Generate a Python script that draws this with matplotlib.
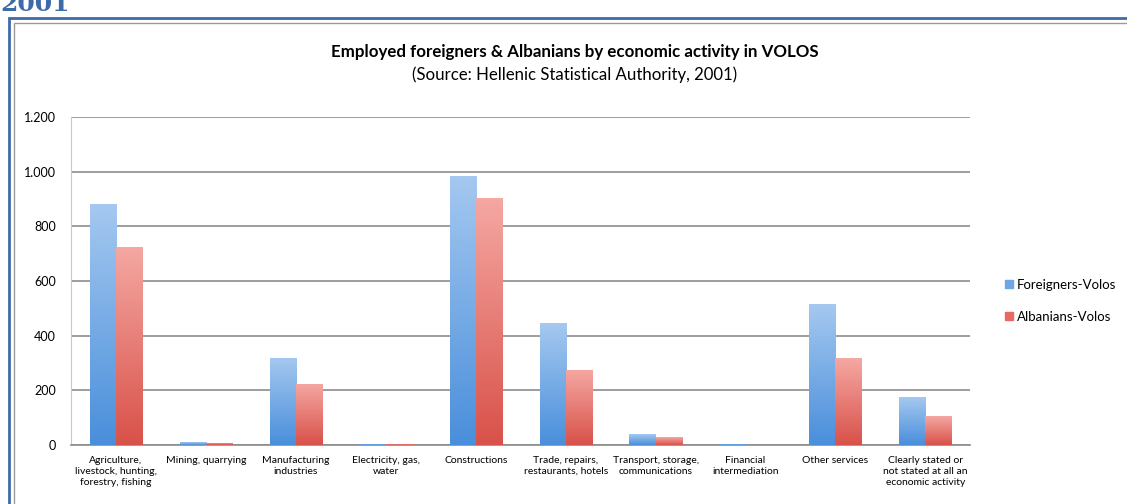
import matplotlib
matplotlib.use("Agg")
import matplotlib.pyplot as plt
import numpy as np
from matplotlib.colors import LinearSegmentedColormap
from matplotlib.patches import Rectangle

categories = [
    "Agriculture,\nlivestock, hunting,\nforestry, fishing",
    "Mining, quarrying",
    "Manufacturing\nindustries",
    "Electricity, gas,\nwater",
    "Constructions",
    "Trade, repairs,\nrestaurants, hotels",
    "Transport, storage,\ncommunications",
    "Financial\nintermediation",
    "Other services",
    "Clearly stated or\nnot stated at all an\neconomic activity",
]
foreigners = [880, 10, 320, 5, 985, 445, 40, 5, 515, 175]
albanians = [725, 8, 225, 5, 905, 275, 28, 1, 318, 106]
series_names = ["Foreigners-Volos", "Albanians-Volos"]
yticks = [0, 200, 400, 600, 800, 1000, 1200]
ytick_labels = ["0", "200", "400", "600", "800", "1.000", "1.200"]

plt.rcParams["font.family"] = ["Lato", "DejaVu Sans"]

fig = plt.figure(figsize=(11.27, 5.04), dpi=100)

# outer frame of the pasted picture
fig.patches.append(Rectangle((0.008, -0.05), 1.2, 1.015, transform=fig.transFigure,
                             fill=False, edgecolor="#3f6aa8", linewidth=2.0))
fig.patches.append(Rectangle((0.012, -0.05), 1.2, 1.005, transform=fig.transFigure,
                             fill=False, edgecolor="#9a9a9a", linewidth=1.0))
# heading of the page, cut by the top edge as in the source picture
fig.text(0.0, 0.978, "2001", ha="left", va="baseline", fontsize=18, fontweight="bold",
         color="#3f6aa8", family="DejaVu Serif")

ax = fig.add_axes([0.063, 0.117, 0.798, 0.651])

x = np.arange(len(categories))
w = 0.29
blue_cmap = LinearSegmentedColormap.from_list("b", ["#a4c8f0", "#4a8fdb"])
red_cmap = LinearSegmentedColormap.from_list("r", ["#f5a7a2", "#d8524a"])

grad = np.linspace(0, 1, 64).reshape(-1, 1)
for vals, off, cmap in [(foreigners, -w / 2, blue_cmap), (albanians, w / 2, red_cmap)]:
    bars = ax.bar(x + off, vals, w, color="none", edgecolor="none", zorder=3)
    for b in bars:
        if b.get_height() <= 0:
            continue
        x0 = b.get_x()
        im = ax.imshow(grad, cmap=cmap, aspect="auto", zorder=3,
                       extent=[x0, x0 + b.get_width(), 0, b.get_height()],
                       interpolation="bilinear")
        im.set_clip_path(b)

ax.set_xlim(-0.5, len(categories) - 0.5)
ax.set_ylim(0, 1200)
ax.set_yticks(yticks)
ax.set_yticklabels(ytick_labels, fontsize=9)
ax.set_xticks(x)
ax.set_xticklabels(categories, fontsize=7.5, linespacing=1.25)
ax.tick_params(axis="x", length=0, pad=8)
ax.tick_params(axis="y", length=0, pad=11)
ax.yaxis.grid(True, color="#8c8c8c", linewidth=1.2, zorder=0)
ax.set_axisbelow(True)
for s in ["top", "right"]:
    ax.spines[s].set_visible(False)
ax.spines["left"].set_color("#c8c8c8")
ax.spines["bottom"].set_color("#8c8c8c")
ax.spines["bottom"].set_linewidth(1.2)

handles = [Rectangle((0, 0), 1, 1, color="#6fa6e6"), Rectangle((0, 0), 1, 1, color="#e66a63")]
ax.legend(handles, series_names, loc="center left", bbox_to_anchor=(1.025, 0.44),
          frameon=False, fontsize=9.5, handlelength=0.6, handleheight=0.6,
          handletextpad=0.3, labelspacing=1.5)

fig.text(0.51, 0.897, "Employed foreigners & Albanians by economic activity in VOLOS",
         ha="center", va="center", fontsize=12.2, fontweight="bold")
fig.text(0.51, 0.851, "(Source: Hellenic Statistical Authority, 2001)",
         ha="center", va="center", fontsize=12.1)

fig.savefig("out.png", dpi=100)
